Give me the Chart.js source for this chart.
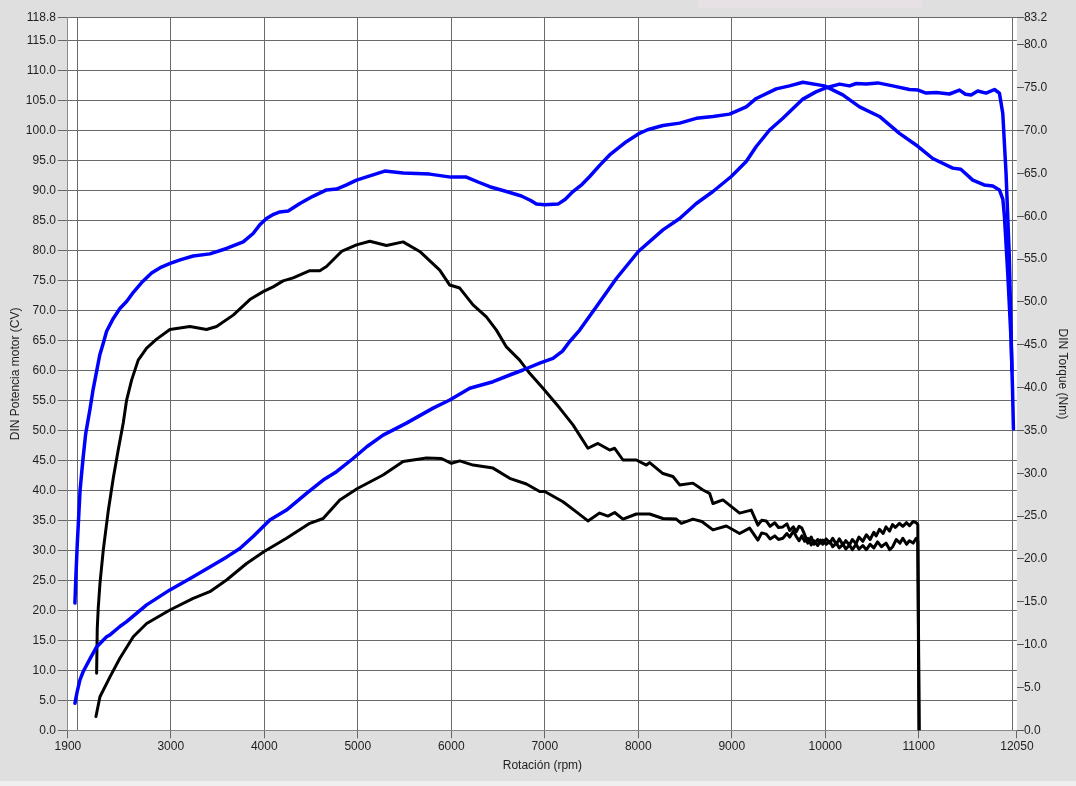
<!DOCTYPE html>
<html>
<head>
<meta charset="utf-8">
<script src="https://cdn.jsdelivr.net/npm/chart.js@4.4.1/dist/chart.umd.min.js"></script>
<style>
html,body{margin:0;padding:0;background:#dfdfdf;}
#wrap{width:1076px;height:786px;position:relative;}
</style>
</head>
<body>
<div id="wrap"><canvas id="c" width="1076" height="786"></canvas></div>
<script>
// ---- tick values ----
const rpmLabelTicks = [1900, 3000, 4000, 5000, 6000, 7000, 8000, 9000, 10000, 11000, 12050];
const rpmGridLines = [2000, 3000, 4000, 5000, 6000, 7000, 8000, 9000, 10000, 11000, 12000];
const powerTicks = [0, 5, 10, 15, 20, 25, 30, 35, 40, 45, 50, 55, 60, 65, 70, 75, 80, 85, 90, 95, 100, 105, 110, 115, 118.8];
const torqueTicks = [0, 5, 10, 15, 20, 25, 30, 35, 40, 45, 50, 55, 60, 65, 70, 75, 80, 83.2];

// ---- blue run: power (CV) ----
const bluePowerRpm = [1975,2000,2029,2064,2136,2207,2314,2350,2456,2528,2742,2991,3240,3418,3600,3739,3881,4060,4238,4452,4630,4773,4950,5100,5271,5521,5806,5984,6198,6447,6640,6768,6946,7088,7190,7267,7374,7552,7766,8001,8264,8443,8621,8799,8995,9155,9262,9405,9547,9761,9900,9992,10153,10260,10331,10438,10562,10722,10901,10994,11079,11186,11329,11436,11500,11560,11631,11721,11810,11863,11899,11934,11969,11997];
const bluePowerCV = [4.5,6.5,8.4,9.8,11.9,13.9,15.6,15.9,17.3,18.1,20.9,23.4,25.6,27.2,28.9,30.3,32.3,35.05,36.7,39.5,41.7,43.1,45.3,47.3,49.2,51.2,53.7,55.05,57.0,58.1,59.3,60.05,61.2,62.0,63.2,64.8,66.7,70.6,75.3,79.8,83.4,85.3,87.8,89.8,92.3,94.8,97.3,100.05,102.0,105.2,106.4,107.0,107.7,107.4,107.8,107.7,107.9,107.4,106.8,106.7,106.2,106.3,106.05,106.7,106.0,105.9,106.55,106.2,106.8,106.2,102.8,92.8,78.9,60.0];

// ---- blue run: torque (Nm) ----
const blueTorqueRpm = [1975,1985,2000,2015,2030,2060,2090,2136,2170,2207,2240,2278,2314,2380,2456,2530,2600,2700,2795,2900,2994,3100,3240,3418,3597,3775,3881,3950,4024,4100,4167,4256,4381,4520,4666,4773,4880,4987,5129,5289,5485,5770,5995,6162,6300,6412,6590,6750,6850,6911,7000,7142,7220,7302,7400,7481,7590,7694,7873,8001,8100,8264,8443,8621,8800,8977,9155,9262,9476,9618,9761,9992,10188,10367,10580,10794,10994,11150,11364,11450,11578,11700,11792,11863,11900,11917,11952,11988,12003,12013];
const blueTorqueNm = [14.85,17.86,21.71,24.86,28.01,31.52,34.60,37.47,39.80,41.90,43.77,45.17,46.57,47.97,49.23,50.07,51.12,52.39,53.37,54.07,54.49,54.91,55.36,55.61,56.24,57.01,57.99,58.97,59.74,60.23,60.51,60.61,61.49,62.33,63.07,63.17,63.66,64.22,64.71,65.27,65.06,64.92,64.57,64.57,63.94,63.45,62.89,62.37,61.84,61.42,61.35,61.42,61.98,62.89,63.73,64.64,65.97,67.16,68.70,69.61,70.10,70.59,70.87,71.43,71.65,71.92,72.77,73.75,74.87,75.22,75.64,75.22,74.17,72.77,71.65,69.68,68.14,66.74,65.62,65.48,64.22,63.66,63.52,63.07,61.98,59.95,53.37,45.52,39.92,35.16];

// ---- black run: power (CV) ----
const blackPowerRpm = [2200,2243,2350,2456,2599,2742,2991,3240,3418,3597,3811,3999,4238,4487,4630,4808,4997,5271,5485,5735,5895,6002,6091,6233,6447,6625,6804,6946,7000,7195,7338,7462,7587,7676,7748,7837,7980,8122,8264,8407,8461,8585,8680,8799,8942,9084,9191,9280,9320,9369,9410,9460,9500,9547,9590,9620,9660,9690,9720,9750,9780,9814,9850,9880,9920,9950,9974,10010,10050,10080,10118,10150,10190,10220,10260,10290,10330,10360,10402,10440,10480,10520,10545,10580,10620,10650,10688,10720,10750,10794,10830,10870,10901,10940,10973,10990,11005];
const blackPowerCV = [2.3,5.6,8.9,12.0,15.6,17.8,20.05,22.0,23.1,25.05,27.8,29.8,32.0,34.5,35.3,38.4,40.3,42.55,44.8,45.4,45.3,44.5,44.9,44.2,43.7,42.0,41.05,39.8,39.8,38.1,36.4,34.9,36.2,35.7,36.3,35.2,36.05,36.05,35.3,35.2,34.5,35.2,34.8,33.4,34.05,32.8,33.7,31.7,32.9,32.7,31.9,32.4,31.8,32.0,32.8,32.2,33.2,32.3,31.6,32.4,31.5,32.0,30.9,31.6,30.8,31.7,31.0,31.9,31.2,32.0,31.0,31.9,30.9,31.6,30.9,31.8,31.1,32.2,31.5,32.6,31.8,33.0,32.4,33.5,32.8,33.9,33.2,34.3,33.8,34.5,34.0,34.6,34.1,34.8,34.6,34.3,0];

// ---- black run: torque (Nm) ----
const blackTorqueRpm = [2207,2214,2225,2243,2278,2331,2385,2438,2492,2528,2582,2652,2742,2849,2991,3205,3383,3490,3668,3846,3988,4095,4202,4309,4487,4594,4666,4826,4987,5129,5307,5485,5663,5877,5984,6091,6233,6376,6483,6590,6732,6839,6981,7160,7302,7462,7569,7694,7748,7837,7980,8087,8122,8264,8371,8443,8585,8692,8763,8799,8906,9084,9209,9280,9320,9369,9410,9460,9500,9547,9590,9620,9660,9690,9720,9750,9780,9814,9850,9880,9920,9950,9974,10010,10050,10080,10118,10150,10190,10220,10260,10290,10330,10360,10402,10440,10480,10520,10560,10600,10650,10690,10722,10760,10800,10830,10870,10900,10940,10973,10990,11003];
const blackTorqueNm = [6.65,11.91,14.36,17.16,21.01,25.56,29.41,32.71,35.86,38.55,40.90,43.21,44.61,45.66,46.78,47.13,46.78,47.13,48.46,50.28,51.20,51.76,52.46,52.81,53.65,53.65,54.14,55.89,56.66,57.08,56.59,57.01,55.89,53.72,51.97,51.62,49.65,48.25,46.71,44.75,43.21,41.67,39.92,37.61,35.65,32.92,33.48,32.71,32.92,31.55,31.55,30.96,31.24,29.97,29.62,28.64,28.85,28.05,27.66,26.47,26.89,25.35,25.70,23.95,24.51,24.44,23.81,24.23,23.67,23.74,24.09,23.32,23.74,23.18,23.81,23.60,22.83,21.85,22.55,21.71,22.27,21.85,22.20,21.71,22.06,21.43,21.85,21.29,21.71,21.15,21.64,21.08,21.71,21.15,21.57,21.08,21.71,21.29,21.99,21.43,21.85,21.08,21.43,22.27,21.85,22.41,21.71,22.13,21.85,22.41,22.06,0];

// ---- build chart ----
const toPts = (xs, ys) => xs.map((x, i) => ({ x: x, y: ys[i] }));
const xTickValues = Array.from(new Set(rpmLabelTicks.concat(rpmGridLines))).sort((a, b) => a - b);

const FONT = { family: "'Liberation Sans', Arial, sans-serif", size: 12 };
const TEXT = '#1e1e1e';
const BLUE = '#0000ff';
const BLACK = '#000000';

const bgPlugin = {
  id: 'bg',
  beforeDraw(chart) {
    const { ctx, chartArea: a } = chart;
    ctx.save();
    ctx.fillStyle = '#dfdfdf';
    ctx.fillRect(0, 0, chart.width, chart.height);
    ctx.fillStyle = '#efefef';
    ctx.fillRect(0, 781, chart.width, 5);
    ctx.fillStyle = '#e7e1e5';
    ctx.fillRect(698, 0, 224, 8);
    ctx.fillStyle = '#ffffff';
    ctx.fillRect(a.left, a.top, a.right - a.left, a.bottom - a.top);
    ctx.restore();
  }
};

Chart.defaults.font.family = FONT.family;

const lineStyle = (color, width) => ({
  borderColor: color,
  backgroundColor: color,
  borderWidth: width,
  pointRadius: 0,
  tension: 0,
  fill: false,
  borderJoinStyle: 'round',
  borderCapStyle: 'round'
});

new Chart(document.getElementById('c'), {
  type: 'line',
  data: {
    datasets: [
      Object.assign({ label: 'Potencia (azul)', data: toPts(bluePowerRpm, bluePowerCV), yAxisID: 'y' }, lineStyle(BLUE, 3.5)),
      Object.assign({ label: 'Torque (azul)', data: toPts(blueTorqueRpm, blueTorqueNm), yAxisID: 'y2' }, lineStyle(BLUE, 3.5)),
      Object.assign({ label: 'Potencia (negro)', data: toPts(blackPowerRpm, blackPowerCV), yAxisID: 'y' }, lineStyle(BLACK, 3)),
      Object.assign({ label: 'Torque (negro)', data: toPts(blackTorqueRpm, blackTorqueNm), yAxisID: 'y2' }, lineStyle(BLACK, 3))
    ]
  },
  options: {
    responsive: false,
    animation: false,
    events: [],
    layout: { padding: { top: 17.5, left: 0, right: 0, bottom: 0 } },
    plugins: {
      legend: { display: false },
      tooltip: { enabled: false },
      title: { display: false }
    },
    scales: {
      x: {
        type: 'linear',
        min: 1900,
        max: 12050,
        afterBuildTicks: s => { s.ticks = xTickValues.map(v => ({ value: v })); },
        afterFit: s => { s.height = 55.7; },
        ticks: {
          autoSkip: false, maxRotation: 0, minRotation: 0, padding: 1, color: TEXT, font: FONT,
          callback: v => rpmLabelTicks.includes(v) ? String(v) : ''
        },
        grid: {
          color: c => (c.tick && rpmGridLines.includes(c.tick.value)) ? '#6a6a6a' : 'rgba(0,0,0,0)',
          tickColor: c => (c.tick && rpmLabelTicks.includes(c.tick.value)) ? '#666666' : 'rgba(0,0,0,0)',
          tickLength: 8,
          lineWidth: 1
        },
        border: { display: true, color: '#8a8a8a' },
        title: { display: true, text: 'Rotación (rpm)', color: TEXT, font: FONT, padding: { top: 0, bottom: 12.8 } }
      },
      y: {
        type: 'linear',
        position: 'left',
        min: 0,
        max: 118.8,
        afterBuildTicks: s => { s.ticks = powerTicks.map(v => ({ value: v })); },
        afterFit: s => { s.width = 67.9; },
        ticks: { autoSkip: false, padding: 2, color: TEXT, font: FONT, callback: v => Number(v).toFixed(1) },
        grid: { color: '#6a6a6a', tickColor: '#666666', tickLength: 10, lineWidth: 1 },
        border: { display: true, color: '#8a8a8a' },
        title: { display: true, text: 'DIN Potencia motor (CV)', color: TEXT, font: FONT, padding: { top: 8, bottom: 0 } }
      },
      y2: {
        type: 'linear',
        position: 'right',
        min: 0,
        max: 83.2,
        afterBuildTicks: s => { s.ticks = torqueTicks.map(v => ({ value: v })); },
        afterFit: s => { s.width = 59.1; },
        ticks: { autoSkip: false, padding: 0, color: TEXT, font: FONT, callback: v => Number(v).toFixed(1) },
        grid: { drawOnChartArea: false, tickColor: '#555555', tickLength: 7, lineWidth: 1 },
        border: { display: false },
        title: { display: true, text: 'DIN Torque (Nm)', color: TEXT, font: FONT, padding: { top: 6.5, bottom: 0 } }
      }
    }
  },
  plugins: [bgPlugin]
});
</script>
</body>
</html>
